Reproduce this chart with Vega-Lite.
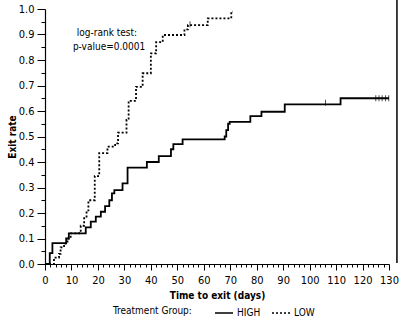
{
  "$schema": "https://vega.github.io/schema/vega-lite/v6.json",
  "width": 344,
  "height": 255,
  "autosize": {"type": "none"},
  "padding": {"left": 45, "top": 9, "right": 11, "bottom": 55},
  "background": "white",
  "config": {
    "font": "DejaVu Sans Condensed, Liberation Sans, sans-serif",
    "view": {"stroke": null},
    "axis": {
      "grid": false,
      "domainColor": "black",
      "domainWidth": 1.2,
      "tickColor": "black",
      "tickWidth": 1,
      "labelColor": "black",
      "labelFontSize": 11,
      "labelFont": "DejaVu Sans Condensed, Liberation Sans, sans-serif",
      "titleFont": "DejaVu Sans Condensed, Liberation Sans, sans-serif",
      "titleFontSize": 10,
      "titleFontWeight": "bold",
      "titleColor": "black",
      "labelOverlap": false
    }
  },
  "resolve": {"axis": {"x": "independent", "y": "independent"}},
  "datasets": {
    "curves": [
      {"group": "HIGH", "day": 0, "rate": 0},
      {"group": "HIGH", "day": 1.8, "rate": 0.043},
      {"group": "HIGH", "day": 2.8, "rate": 0.082},
      {"group": "HIGH", "day": 8, "rate": 0.1},
      {"group": "HIGH", "day": 9, "rate": 0.12},
      {"group": "HIGH", "day": 15.4, "rate": 0.144},
      {"group": "HIGH", "day": 17.3, "rate": 0.166},
      {"group": "HIGH", "day": 19.2, "rate": 0.186},
      {"group": "HIGH", "day": 21.1, "rate": 0.205},
      {"group": "HIGH", "day": 22.7, "rate": 0.227},
      {"group": "HIGH", "day": 24.3, "rate": 0.25},
      {"group": "HIGH", "day": 25.3, "rate": 0.277},
      {"group": "HIGH", "day": 26.2, "rate": 0.29},
      {"group": "HIGH", "day": 29.3, "rate": 0.316},
      {"group": "HIGH", "day": 31.2, "rate": 0.378},
      {"group": "HIGH", "day": 38.5, "rate": 0.4},
      {"group": "HIGH", "day": 43, "rate": 0.423},
      {"group": "HIGH", "day": 47.6, "rate": 0.45},
      {"group": "HIGH", "day": 48.5, "rate": 0.47},
      {"group": "HIGH", "day": 52, "rate": 0.489},
      {"group": "HIGH", "day": 67.9, "rate": 0.5},
      {"group": "HIGH", "day": 68.5, "rate": 0.525},
      {"group": "HIGH", "day": 69.2, "rate": 0.55},
      {"group": "HIGH", "day": 69.8, "rate": 0.557},
      {"group": "HIGH", "day": 77.6, "rate": 0.58},
      {"group": "HIGH", "day": 81.8, "rate": 0.597},
      {"group": "HIGH", "day": 90.6, "rate": 0.626},
      {"group": "HIGH", "day": 111.7, "rate": 0.65},
      {"group": "HIGH", "day": 130, "rate": 0.65},
      {"group": "LOW", "day": 0, "rate": 0},
      {"group": "LOW", "day": 3.4, "rate": 0.025},
      {"group": "LOW", "day": 5.3, "rate": 0.04},
      {"group": "LOW", "day": 5.9, "rate": 0.065},
      {"group": "LOW", "day": 7.2, "rate": 0.08},
      {"group": "LOW", "day": 8.5, "rate": 0.1},
      {"group": "LOW", "day": 9.7, "rate": 0.12},
      {"group": "LOW", "day": 12.9, "rate": 0.13},
      {"group": "LOW", "day": 13.5, "rate": 0.15},
      {"group": "LOW", "day": 14.8, "rate": 0.18},
      {"group": "LOW", "day": 15.7, "rate": 0.21},
      {"group": "LOW", "day": 16.4, "rate": 0.25},
      {"group": "LOW", "day": 18.8, "rate": 0.345},
      {"group": "LOW", "day": 20.5, "rate": 0.435},
      {"group": "LOW", "day": 23.6, "rate": 0.46},
      {"group": "LOW", "day": 26.5, "rate": 0.473},
      {"group": "LOW", "day": 27.6, "rate": 0.515},
      {"group": "LOW", "day": 30.8, "rate": 0.565},
      {"group": "LOW", "day": 31.6, "rate": 0.64},
      {"group": "LOW", "day": 34.4, "rate": 0.695},
      {"group": "LOW", "day": 36.9, "rate": 0.748},
      {"group": "LOW", "day": 40, "rate": 0.826},
      {"group": "LOW", "day": 42, "rate": 0.87},
      {"group": "LOW", "day": 44.5, "rate": 0.898},
      {"group": "LOW", "day": 52.7, "rate": 0.92},
      {"group": "LOW", "day": 54, "rate": 0.937},
      {"group": "LOW", "day": 61.5, "rate": 0.963},
      {"group": "LOW", "day": 70.4, "rate": 0.99},
      {"group": "LOW", "day": 71, "rate": 0.99}
    ],
    "censor": [
      {"group": "HIGH", "day": 106, "rate": 0.632},
      {"group": "HIGH", "day": 125, "rate": 0.65},
      {"group": "HIGH", "day": 126.2, "rate": 0.65},
      {"group": "HIGH", "day": 127.4, "rate": 0.65},
      {"group": "HIGH", "day": 128.7, "rate": 0.65},
      {"group": "HIGH", "day": 129.9, "rate": 0.65},
      {"group": "LOW", "day": 54.8, "rate": 0.94}
    ],
    "notes": [
      {"day": 23.4, "rate": 0.906, "label": "log-rank test:"},
      {"day": 24.2, "rate": 0.851, "label": "p-value=0.0001"}
    ]
  },
  "layer": [
    {
      "data": {"name": "curves"},
      "mark": {"type": "line", "interpolate": "step-after", "color": "black", "strokeWidth": 1.8},
      "encoding": {
        "x": {
          "field": "day", "type": "quantitative",
          "scale": {"domain": [0, 130], "nice": false, "zero": false},
          "axis": {
            "title": "Time to exit (days)",
            "orient": "bottom",
            "values": [0,10,20,30,40,50,60,70,80,90,100,110,120,130],
            "tickSize": 6,
            "labelOverlap": false,
            "labelFlush": false,
            "labelPadding": 4,
            "titlePadding": 5
          }
        },
        "y": {
          "field": "rate", "type": "quantitative",
          "scale": {"domain": [0, 1], "nice": false},
          "axis": {
            "title": "Exit rate",
            "orient": "left",
            "values": [0,0.1,0.2,0.3,0.4,0.5,0.6,0.7,0.8,0.9,1.0],
            "format": ".1f",
            "tickSize": 8,
            "labelOverlap": false,
            "labelFlush": false,
            "labelPadding": 3,
            "titlePadding": 1
          }
        },
        "strokeDash": {
          "field": "group", "type": "nominal",
          "scale": {"domain": ["HIGH", "LOW"], "range": [[1, 0], [2, 2]]},
          "legend": {
            "title": "Treatment Group:",
            "orient": "none",
            "legendX": 68,
            "legendY": 294,
            "direction": "horizontal",
            "titleOrient": "left",
            "titleFontWeight": "normal",
            "titleFontSize": 10,
            "titleColor": "black",
            "titlePadding": 22,
            "titleBaseline": "middle",
            "labelFontSize": 10,
            "labelColor": "black",
            "labelOffset": 3,
            "columnPadding": 8,
            "symbolType": "stroke",
            "symbolSize": 324,
            "symbolStrokeColor": "black",
            "symbolStrokeWidth": 1.5
          }
        }
      }
    },
    {
      "data": {"name": "censor"},
      "mark": {"type": "tick", "orient": "vertical", "color": "black", "size": 6, "thickness": 1},
      "encoding": {
        "x": {
          "field": "day", "type": "quantitative",
          "axis": {
            "orient": "bottom",
            "title": null,
            "labels": false,
            "domain": false,
            "tickSize": 3,
            "values": [2,4,6,8,12,14,16,18,22,24,26,28,32,34,36,38,42,44,46,48,52,54,56,58,62,64,66,68,72,74,76,78,82,84,86,88,92,94,96,98,102,104,106,108,112,114,116,118,122,124,126,128]
          }
        },
        "y": {
          "field": "rate", "type": "quantitative",
          "axis": {
            "orient": "left",
            "title": null,
            "labels": false,
            "domain": false,
            "tickSize": 4,
            "values": [0.05,0.15,0.25,0.35,0.45,0.55,0.65,0.75,0.85,0.95]
          }
        }
      }
    },
    {
      "data": {"name": "notes"},
      "mark": {"type": "text", "fontSize": 10, "align": "center", "baseline": "middle", "color": "black"},
      "encoding": {
        "x": {"field": "day", "type": "quantitative", "axis": null},
        "y": {"field": "rate", "type": "quantitative", "axis": null},
        "text": {"field": "label"}
      }
    },
    {
      "data": {"values": [{"day": 133, "lo": 0.004, "hi": 1.035}]},
      "mark": {"type": "rule", "color": "black", "strokeWidth": 1.5, "clip": false},
      "encoding": {
        "x": {"field": "day", "type": "quantitative", "axis": null},
        "y": {"field": "lo", "type": "quantitative", "axis": null},
        "y2": {"field": "hi"}
      }
    }
  ]
}
